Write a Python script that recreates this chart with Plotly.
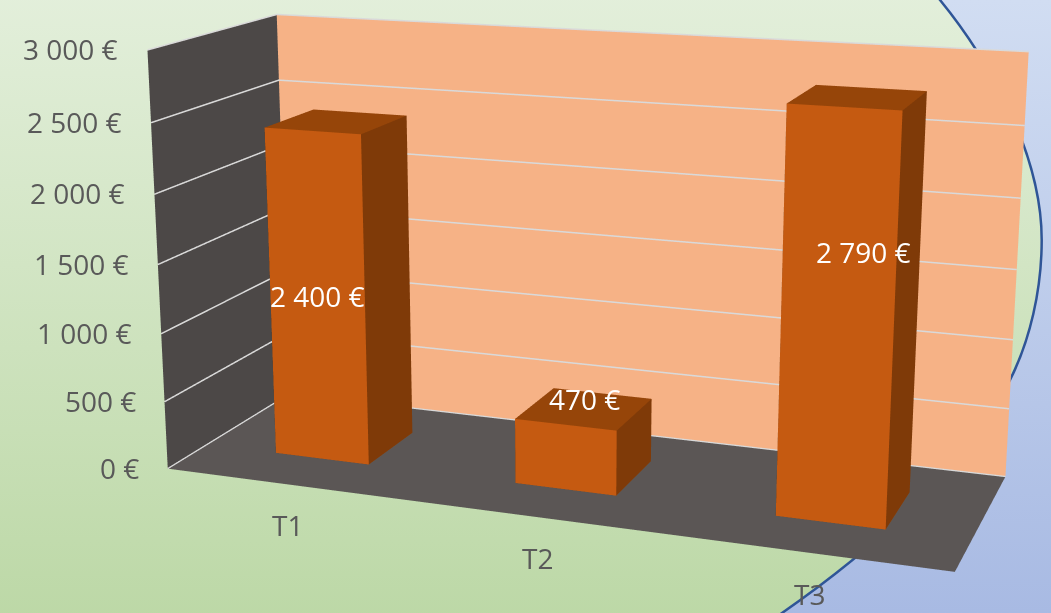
import numpy as np
import plotly.graph_objects as go
import base64

categories = ["T1", "T2", "T3"]
values = [2400, 470, 2790]
value_labels = ["2 400 €", "470 €", "2 790 €"]
z_ticks = [0, 500, 1000, 1500, 2000, 2500, 3000]
z_tick_labels = ["0 €", "500 €", "1 000 €", "1 500 €", "2 000 €", "2 500 €", "3 000 €"]

W, H = 1051, 613

# camera and box proportions
eye = (0.8936, -2.5115, 0.6675)
cen = (-0.0367, -0.1052, -0.0277)
up = (0.0022, 0.0058, 1.0)
ay, az = 0.3396, 0.5344
bw, y0, y1 = 0.3976, 0.3049, 0.7091
F = 2232.8

# The scene's field of view is fixed, so a longer lens is obtained with a bigger canvas cropped to the window.
k = F / (H / 2 / np.tan(np.pi / 8))
CW, CH = int(round(W * k)), int(round(H * k))
ox, oy = (CW - W) // 2, (CH - H) // 2

svg = f'''<svg xmlns="http://www.w3.org/2000/svg" width="{W}" height="{H}" viewBox="0 0 {W} {H}">
<defs><linearGradient id="g" x1="0" y1="0" x2="0" y2="1"><stop offset="0" stop-color="#E3EFDB"/><stop offset="1" stop-color="#BCD8A6"/></linearGradient>
<linearGradient id="b" x1="0" y1="0" x2="0" y2="1"><stop offset="0" stop-color="#D1DDF2"/><stop offset="1" stop-color="#A8BAE3"/></linearGradient></defs>
<rect width="{W}" height="{H}" fill="url(#b)"/>
<path d="M-9 -9L933 -9L940 0C985 55 1041.7 150 1041.7 240C1041.7 290 1030 340 1010 380C965 465 880 545 782 613L770 622L-9 622Z" fill="url(#g)" stroke="#2F5597" stroke-width="2.5"/></svg>'''
src = "data:image/svg+xml;base64," + base64.b64encode(svg.encode()).decode()

C_FRONT = "#C55A11"; C_TOP = "#964509"; C_SIDE = "#7F3A08"
fig = go.Figure()
for i, v in enumerate(values):
    a, e = i + 0.5 - bw / 2, i + 0.5 + bw / 2
    xs = [a, e, e, a, a, e, e, a]; ys = [y0, y0, y1, y1, y0, y0, y1, y1]; zs = [0, 0, 0, 0, v, v, v, v]
    I = [0, 0, 4, 4, 1, 1, 3, 3, 0, 0, 0, 0]; J = [1, 2, 5, 6, 2, 6, 2, 6, 3, 7, 1, 5]; K = [2, 3, 6, 7, 6, 5, 6, 7, 7, 4, 5, 4]
    fc = [C_TOP] * 4 + [C_SIDE] * 6 + [C_FRONT] * 2
    fig.add_trace(go.Mesh3d(x=xs, y=ys, z=zs, i=I, j=J, k=K, facecolor=fc, flatshading=True,
        lighting=dict(ambient=1, diffuse=0, specular=0, fresnel=0, roughness=1), hoverinfo="skip", showscale=False))
for t in z_ticks:
    fig.add_trace(go.Scatter3d(x=[0, 0, 3], y=[0, 1, 1], z=[t, t, t], mode="lines",
        line=dict(color="#D9D9D9", width=3), hoverinfo="skip"))

FONT = "Open Sans"; GREY = "#595959"; FS = 28
label_dx = [2, 2, 1]
value_shift = [(0, 2), (19, 58), (27, 68)]
anns = []
for t, l in zip(z_ticks, z_tick_labels):
    anns.append(dict(x=0, y=0, z=t, text=l, showarrow=False, xanchor="right", xshift=-27, yshift=1,
                     font=dict(family=FONT, size=FS, color=GREY)))
for i, c in enumerate(categories):
    anns.append(dict(x=i + 0.5, y=0, z=0, text=c, showarrow=False, xshift=label_dx[i], yshift=-41,
                     font=dict(family=FONT, size=FS, color=GREY)))
for i, (v, l) in enumerate(zip(values, value_labels)):
    anns.append(dict(x=i + 0.5, y=y0, z=v / 2, text=l, showarrow=False, xshift=value_shift[i][0], yshift=value_shift[i][1],
                     font=dict(family=FONT, size=FS, color="white")))

ax_off = dict(title="", showticklabels=False, showspikes=False, showline=False, zeroline=False, ticks="", showgrid=False, showbackground=True)
fig.update_layout(width=CW, height=CH, margin=dict(l=0, r=0, t=0, b=0), paper_bgcolor="rgba(0,0,0,0)", showlegend=False,
    images=[dict(source=src, xref="paper", yref="paper", x=ox / CW, y=1 - oy / CH, sizex=W / CW, sizey=H / CH,
                 sizing="stretch", layer="below", xanchor="left", yanchor="top")],
    scene=dict(domain=dict(x=[0, 1], y=[0, 1]), bgcolor="rgba(0,0,0,0)", dragmode="orbit",
        aspectmode="manual", aspectratio=dict(x=1, y=ay, z=az),
        camera=dict(eye=dict(x=eye[0], y=eye[1], z=eye[2]), center=dict(x=cen[0], y=cen[1], z=cen[2]),
                    up=dict(x=up[0], y=up[1], z=up[2]), projection=dict(type="perspective")),
        xaxis=dict(range=[0, 3], backgroundcolor="#4C4847", **ax_off),
        yaxis=dict(range=[0, 1], backgroundcolor="#F6B286", **ax_off),
        zaxis=dict(range=[0, 3000], backgroundcolor="#5B5655", **ax_off),
        annotations=anns))
post = f"""
document.documentElement.style.overflow='hidden';
document.body.style.margin='0';document.body.style.overflow='hidden';
var gd=document.getElementsByClassName('plotly-graph-div')[0];
gd.style.position='absolute';gd.style.left='{-ox}px';gd.style.top='{-oy}px';
"""
fig.write_html("out.html", post_script=post)
